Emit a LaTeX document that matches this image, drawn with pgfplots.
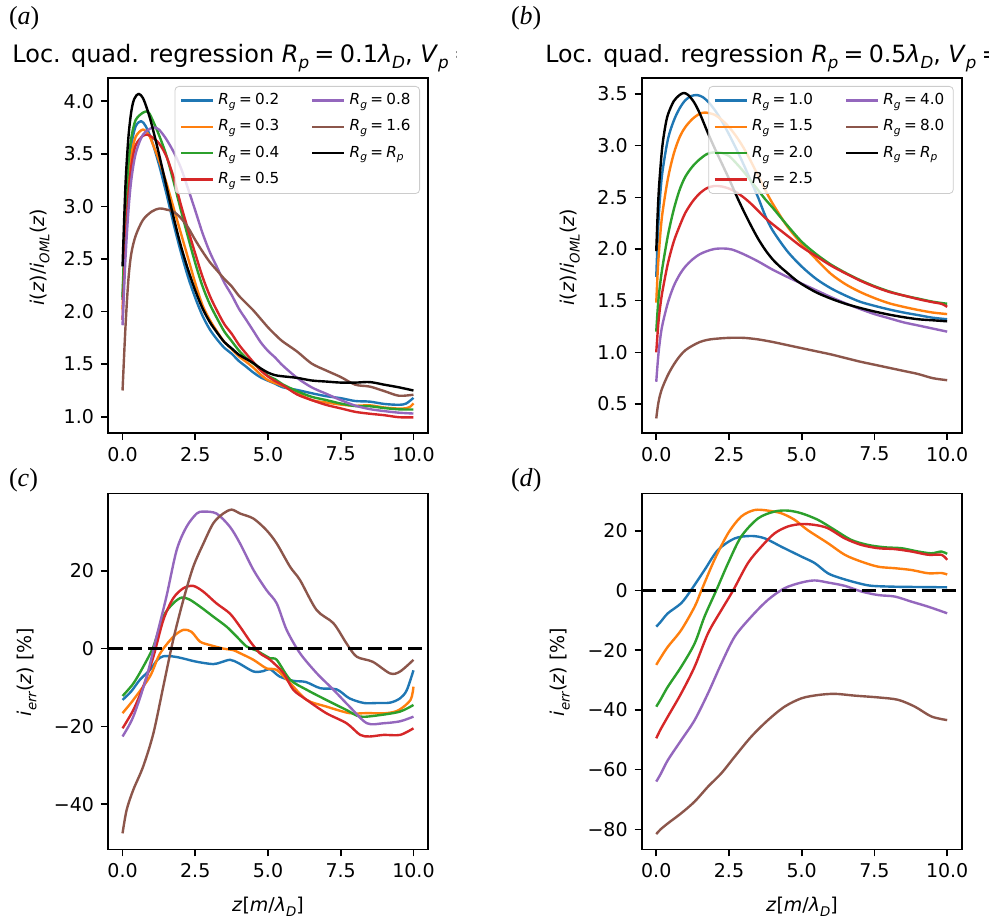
\documentclass[border=0pt]{standalone}
\usepackage{fontspec}
\setmainfont{DejaVu Sans}
\newfontfamily\seriffont{Liberation Serif}
\usepackage{pgfplots}
\pgfplotsset{compat=1.18}
\definecolor{tb}{HTML}{1F77B4}
\definecolor{to}{HTML}{FF7F0E}
\definecolor{tg}{HTML}{2CA02C}
\definecolor{tr}{HTML}{D62728}
\definecolor{tp}{HTML}{9467BD}
\definecolor{tn}{HTML}{8C564B}
\newcommand{\sub}[1]{\raisebox{-0.25em}{\scalebox{0.7}{\itshape #1}}}
\newcommand{\eq}{\hspace{0.22em}=\hspace{0.22em}}
\newcommand{\Rg}{\textit{R}\sub{g}}
\pgfplotsset{
 myax/.style={
  scale only axis, width=160pt, anchor=south west,
  xmin=-0.5, xmax=10.5,
  xtick={0,2.5,5,7.5,10}, xticklabels={0.0,2.5,5.0,7.5,10.0},
  tick align=outside, xtick pos=left, ytick pos=left,
  major tick length=3.5pt,
  tick style={black, line width=0.8pt},
  axis line style={line width=0.8pt},
  ticklabel style={font=\fontsize{9.5}{11}\selectfont},
  every axis plot/.append style={line width=1.2pt, smooth, tension=0.5, line join=round},
  legend cell align=left,
  legend columns=2,
  legend style={at={(1,1)}, anchor=north east, xshift=-4pt, yshift=-4pt,
    draw=black!20, fill=white, fill opacity=0.8, text opacity=1, draw opacity=1,
    rounded corners=2pt, font=\fontsize{7.6}{8.8}\selectfont,
    inner xsep=2.5pt, inner ysep=1.5pt, /tikz/row sep=2pt,
    /tikz/every even column/.append style={column sep=14pt}},
  legend image code/.code={\draw[#1,line width=1.2pt] (0pt,0pt) -- (16pt,0pt);},
 }
}
\begin{document}
\begin{tikzpicture}
\useasboundingbox (0pt,0pt) rectangle (497.5pt,461pt);
% ---------------- (a)
\begin{axis}[myax, at={(54pt,244.5pt)}, height=177.5pt,
  ymin=0.846, ymax=4.22, ytick={1,1.5,2,2.5,3,3.5,4},
  yticklabels={1.0,1.5,2.0,2.5,3.0,3.5,4.0}]
\addplot[tb, forget plot] coordinates {(0,2.11) (0.1,2.85) (0.2,3.30) (0.3,3.58) (0.45,3.76) (0.64,3.81) (0.8,3.76) (1.0,3.63) (1.25,3.40) (1.5,3.13) (1.75,2.84) (2.0,2.57) (2.25,2.33) (2.5,2.13) (2.75,1.96) (3.0,1.83) (3.25,1.735) (3.5,1.655) (3.75,1.60) (4.0,1.53) (4.25,1.476) (4.5,1.42) (4.75,1.374) (5.0,1.343) (5.25,1.314) (5.5,1.281) (6.0,1.255) (6.5,1.224) (7.0,1.196) (7.5,1.177) (8.0,1.15) (8.5,1.144) (9.0,1.122) (9.5,1.114) (9.75,1.126) (10,1.18)};
\addplot[to, forget plot] coordinates {(0,2.02) (0.1,2.75) (0.2,3.20) (0.3,3.48) (0.45,3.66) (0.7,3.73) (0.9,3.68) (1.0,3.62) (1.25,3.44) (1.5,3.23) (1.75,2.99) (2.0,2.75) (2.25,2.51) (2.5,2.27) (2.75,2.06) (3.0,1.92) (3.25,1.81) (3.5,1.71) (3.75,1.645) (4.0,1.574) (4.25,1.522) (4.5,1.466) (4.75,1.40) (5.0,1.348) (5.25,1.32) (5.5,1.295) (6.0,1.226) (6.5,1.159) (7.0,1.136) (7.5,1.116) (8.0,1.105) (8.5,1.109) (9.0,1.088) (9.5,1.078) (9.75,1.082) (9.9,1.098) (10,1.128)};
\addplot[tg, forget plot] coordinates {(0,2.14) (0.1,2.95) (0.2,3.40) (0.3,3.65) (0.45,3.82) (0.7,3.89) (0.87,3.90) (1.0,3.84) (1.25,3.68) (1.5,3.49) (1.75,3.24) (2.0,2.97) (2.25,2.71) (2.5,2.46) (2.75,2.24) (3.0,2.07) (3.25,1.935) (3.5,1.81) (3.75,1.72) (4.0,1.63) (4.25,1.56) (4.5,1.505) (4.75,1.448) (5.0,1.389) (5.25,1.356) (5.5,1.309) (6.0,1.243) (6.5,1.19) (7.0,1.159) (7.5,1.126) (8.0,1.102) (8.5,1.10) (9.0,1.083) (9.5,1.071) (10,1.069)};
\addplot[tr, forget plot] coordinates {(0,1.92) (0.1,2.65) (0.2,3.10) (0.3,3.38) (0.45,3.58) (0.7,3.67) (0.87,3.68) (1.0,3.66) (1.25,3.60) (1.5,3.48) (1.75,3.28) (2.0,3.02) (2.25,2.78) (2.5,2.55) (2.75,2.33) (3.0,2.15) (3.25,2.007) (3.5,1.88) (3.75,1.79) (4.0,1.685) (4.25,1.60) (4.5,1.518) (4.75,1.44) (5.0,1.383) (5.25,1.339) (5.5,1.302) (6.0,1.212) (6.5,1.159) (7.0,1.113) (7.5,1.08) (8.0,1.047) (8.5,1.029) (9.0,1.015) (9.5,0.996) (10,0.994)};
\addplot[tp, forget plot] coordinates {(0,1.87) (0.1,2.50) (0.2,2.95) (0.3,3.25) (0.45,3.50) (0.7,3.68) (1.04,3.75) (1.25,3.73) (1.5,3.64) (1.75,3.52) (2.0,3.37) (2.25,3.17) (2.5,2.96) (2.75,2.745) (3.0,2.565) (3.25,2.42) (3.5,2.274) (3.75,2.158) (4.0,2.027) (4.25,1.922) (4.5,1.815) (4.75,1.708) (5.0,1.626) (5.25,1.562) (5.5,1.489) (6.0,1.37) (6.5,1.28) (7.0,1.219) (7.5,1.159) (8.0,1.106) (8.5,1.073) (9.0,1.054) (9.5,1.039) (10,1.031)};
\addplot[tn, forget plot] coordinates {(0,1.25) (0.1,1.85) (0.2,2.30) (0.3,2.55) (0.45,2.72) (0.7,2.87) (1.0,2.95) (1.27,2.98) (1.5,2.97) (1.75,2.95) (2.0,2.89) (2.25,2.80) (2.5,2.68) (2.75,2.57) (3.0,2.47) (3.25,2.39) (3.5,2.31) (3.75,2.24) (4.0,2.15) (4.25,2.08) (4.5,2.01) (4.75,1.93) (5.0,1.85) (5.25,1.78) (5.5,1.717) (6.0,1.62) (6.5,1.506) (7.0,1.44) (7.5,1.378) (8.0,1.305) (8.5,1.287) (9.0,1.244) (9.5,1.20) (10,1.21)};
\addplot[black, forget plot] coordinates {(0,2.43) (0.1,3.20) (0.2,3.65) (0.3,3.90) (0.4,4.02) (0.55,4.07) (0.7,4.03) (0.85,3.92) (1.0,3.78) (1.25,3.50) (1.5,3.20) (1.75,2.90) (2.0,2.63) (2.25,2.40) (2.5,2.20) (2.75,2.03) (3.0,1.90) (3.25,1.80) (3.5,1.71) (3.75,1.65) (4.0,1.59) (4.25,1.55) (4.5,1.51) (4.75,1.46) (5.0,1.42) (5.25,1.395) (5.5,1.385) (6.0,1.37) (6.5,1.345) (7.0,1.335) (7.5,1.325) (8.0,1.325) (8.5,1.33) (9.0,1.305) (9.5,1.28) (10,1.25)};
\addlegendimage{tb}\addlegendentry{\Rg\eq0.2}
\addlegendimage{tp}\addlegendentry{\Rg\eq0.8}
\addlegendimage{to}\addlegendentry{\Rg\eq0.3}
\addlegendimage{tn}\addlegendentry{\Rg\eq1.6}
\addlegendimage{tg}\addlegendentry{\Rg\eq0.4}
\addlegendimage{black}\addlegendentry{\Rg\eq\textit{R}\sub{p}}
\addlegendimage{tr}\addlegendentry{\Rg\eq0.5}
\end{axis}
% ---------------- (b)
\begin{axis}[myax, at={(320.85pt,244.5pt)}, height=177.5pt,
  ymin=0.219, ymax=3.655, ytick={0.5,1,1.5,2,2.5,3,3.5},
  yticklabels={0.5,1.0,1.5,2.0,2.5,3.0,3.5}]
\addplot[tb, forget plot] coordinates {(0,1.73) (0.05,2.1) (0.1,2.38) (0.2,2.72) (0.4,3.06) (0.6,3.24) (0.8,3.36) (1.0,3.44) (1.2,3.48) (1.4,3.49) (1.6,3.47) (1.8,3.42) (2.0,3.35) (2.25,3.24) (2.5,3.11) (2.75,2.97) (3.0,2.82) (3.25,2.66) (3.5,2.50) (3.75,2.32) (4.0,2.18) (4.5,1.98) (5.0,1.83) (5.5,1.71) (6.0,1.62) (6.5,1.55) (7.0,1.49) (7.5,1.45) (8.0,1.415) (8.5,1.385) (9.0,1.36) (9.5,1.335) (10,1.32)};
\addplot[to, forget plot] coordinates {(0,1.48) (0.05,1.78) (0.1,2.00) (0.2,2.32) (0.4,2.68) (0.6,2.92) (0.8,3.08) (1.0,3.18) (1.25,3.26) (1.5,3.31) (1.7,3.32) (2.0,3.30) (2.25,3.25) (2.5,3.18) (2.75,3.09) (3.0,2.98) (3.25,2.85) (3.5,2.71) (3.75,2.57) (4.0,2.44) (4.5,2.22) (5.0,2.05) (5.5,1.90) (6.0,1.76) (6.5,1.66) (7.0,1.585) (7.5,1.525) (8.0,1.475) (8.5,1.44) (9.0,1.41) (9.5,1.385) (10,1.37)};
\addplot[tg, forget plot] coordinates {(0,1.20) (0.05,1.42) (0.1,1.58) (0.2,1.80) (0.4,2.13) (0.6,2.38) (0.8,2.57) (1.0,2.70) (1.25,2.80) (1.5,2.87) (1.75,2.92) (2.0,2.935) (2.25,2.93) (2.5,2.90) (2.75,2.83) (3.0,2.75) (3.25,2.66) (3.5,2.57) (3.75,2.48) (4.0,2.40) (4.5,2.23) (5.0,2.07) (5.5,1.95) (6.0,1.85) (6.5,1.77) (7.0,1.70) (7.5,1.64) (8.0,1.59) (8.5,1.55) (9.0,1.52) (9.5,1.49) (10,1.47)};
\addplot[tr, forget plot] coordinates {(0,1.0) (0.05,1.2) (0.1,1.36) (0.2,1.57) (0.4,1.86) (0.6,2.07) (0.8,2.22) (1.0,2.35) (1.25,2.46) (1.5,2.54) (1.75,2.59) (2.0,2.61) (2.25,2.605) (2.5,2.585) (2.75,2.55) (3.0,2.50) (3.25,2.44) (3.5,2.37) (3.75,2.30) (4.0,2.24) (4.5,2.13) (5.0,2.02) (5.5,1.93) (6.0,1.84) (6.5,1.765) (7.0,1.695) (7.5,1.635) (8.0,1.585) (8.5,1.55) (9.0,1.515) (9.5,1.485) (9.8,1.47) (10,1.44)};
\addplot[tp, forget plot] coordinates {(0,0.715) (0.05,0.9) (0.1,1.05) (0.2,1.25) (0.4,1.48) (0.6,1.64) (0.8,1.75) (1.0,1.83) (1.25,1.90) (1.5,1.95) (1.75,1.98) (2.0,2.0) (2.3,2.005) (2.6,1.995) (3.0,1.95) (3.5,1.88) (4.0,1.80) (4.5,1.73) (5.0,1.665) (5.5,1.60) (6.0,1.535) (6.5,1.475) (7.0,1.42) (7.5,1.37) (8.0,1.33) (8.5,1.29) (9.0,1.26) (9.5,1.23) (10,1.20)};
\addplot[tn, forget plot] coordinates {(0,0.36) (0.05,0.47) (0.1,0.55) (0.2,0.65) (0.4,0.78) (0.6,0.88) (0.8,0.96) (1.0,1.02) (1.25,1.065) (1.5,1.10) (1.75,1.12) (2.0,1.13) (2.5,1.14) (3.0,1.14) (3.5,1.125) (4.0,1.10) (4.5,1.07) (5.0,1.04) (5.5,1.01) (6.0,0.98) (6.5,0.945) (7.0,0.91) (7.5,0.88) (8.0,0.85) (8.5,0.82) (9.0,0.79) (9.5,0.75) (10,0.73)};
\addplot[black, forget plot] coordinates {(0,1.98) (0.05,2.35) (0.1,2.62) (0.2,2.97) (0.3,3.17) (0.4,3.30) (0.6,3.43) (0.8,3.49) (0.95,3.51) (1.1,3.49) (1.3,3.42) (1.5,3.31) (1.75,3.14) (2.0,2.98) (2.25,2.83) (2.5,2.68) (2.75,2.52) (3.0,2.37) (3.25,2.23) (3.5,2.10) (3.75,1.99) (4.0,1.90) (4.25,1.83) (4.5,1.77) (4.75,1.71) (5.0,1.66) (5.5,1.58) (6.0,1.52) (6.5,1.47) (7.0,1.43) (7.5,1.395) (8.0,1.365) (8.5,1.34) (9.0,1.32) (9.5,1.31) (10,1.30)};
\addlegendimage{tb}\addlegendentry{\Rg\eq1.0}
\addlegendimage{tp}\addlegendentry{\Rg\eq4.0}
\addlegendimage{to}\addlegendentry{\Rg\eq1.5}
\addlegendimage{tn}\addlegendentry{\Rg\eq8.0}
\addlegendimage{tg}\addlegendentry{\Rg\eq2.0}
\addlegendimage{black}\addlegendentry{\Rg\eq\textit{R}\sub{p}}
\addlegendimage{tr}\addlegendentry{\Rg\eq2.5}
\end{axis}
% ---------------- (c)
\begin{axis}[myax, at={(54pt,36.35pt)}, height=178pt,
  ymin=-51.6, ymax=39.9, ytick={-40,-20,0,20},
  yticklabels={−40,−20,0,20}]
\addplot[tb] coordinates {(0,-13.2) (0.3,-11.0) (0.6,-8.0) (0.94,-5.5) (1.2,-2.9) (1.4,-2.0) (1.7,-2.0) (2.0,-2.4) (2.55,-3.4) (3.12,-4.0) (3.4,-3.5) (3.7,-2.9) (4.0,-3.8) (4.5,-5.9) (4.84,-5.8) (5.07,-5.3) (5.4,-7.2) (5.87,-8.3) (6.3,-8.6) (6.8,-10.2) (7.36,-10.5) (7.8,-12.8) (8.3,-14) (8.74,-14) (9.2,-13.9) (9.54,-12.8) (9.77,-10.7) (10,-5.6)};
\addplot[to] coordinates {(0,-16.6) (0.37,-13.2) (0.94,-7.2) (1.28,-1.4) (1.74,3.0) (2.09,4.8) (2.37,4.3) (2.66,1.8) (3.0,0.9) (3.46,0) (3.8,-0.4) (4.04,-1.2) (4.5,-2.9) (4.95,-5.1) (5.3,-5.5) (5.76,-8.9) (6.33,-13.2) (7.0,-14.9) (7.8,-16.6) (8.4,-16.6) (9.08,-16.6) (9.5,-15.8) (9.9,-13.2) (10,-9.8)};
\addplot[tg] coordinates {(0,-12.2) (0.37,-9) (0.71,-4.7) (1.06,0.5) (1.4,8.2) (1.74,11.6) (2.03,13.1) (2.3,12.6) (2.66,10.8) (3.12,8.2) (3.58,5.6) (3.92,3.1) (4.27,0.5) (4.6,-0.5) (5.07,-2.5) (5.3,-2.9) (5.76,-8) (6.33,-10.6) (7.0,-13.2) (7.7,-15.8) (8.17,-17.5) (8.85,-17.1) (9.54,-16.2) (10,-14.5)};
\addplot[tr] coordinates {(0,-20.5) (0.37,-15.8) (0.71,-9.8) (1.06,-2.1) (1.4,7.3) (1.74,12.9) (2.09,15.5) (2.43,16.1) (2.78,14.6) (3.23,11.6) (3.69,9) (4.04,5.6) (4.39,1.8) (4.72,-1.2) (5.07,-2.9) (5.53,-6.3) (5.87,-10.6) (6.33,-13.2) (7.0,-16.6) (7.7,-19.2) (8.17,-22.2) (8.5,-22.6) (8.97,-22.2) (9.54,-22.2) (10,-20.5)};
\addplot[tp] coordinates {(0,-22.6) (0.37,-17.5) (0.83,-7.2) (1.17,3.1) (1.51,13.4) (1.86,25.3) (2.2,31.3) (2.55,34.7) (2.78,35.2) (3.23,34.7) (3.69,31.3) (4.04,27) (4.5,20.2) (4.95,15) (5.3,11.6) (5.64,4.8) (6.1,-1.2) (6.67,-6.3) (7.25,-10.6) (7.8,-14.9) (8.4,-19.2) (8.97,-19.2) (9.54,-18.7) (10,-17.5)};
\addplot[tn] coordinates {(0,-47.5) (0.14,-41.5) (0.37,-36.3) (0.71,-30.3) (1.06,-21.8) (1.4,-9.8) (1.74,2.2) (2.09,12.5) (2.43,21) (2.78,27) (3.12,32.2) (3.46,34.7) (3.75,35.7) (4.04,34.7) (4.5,33.4) (4.95,30.4) (5.3,27) (5.76,21) (6.1,17.6) (6.67,9.9) (7.25,6.5) (7.7,1.3) (8.05,-2.1) (8.6,-3.4) (9.2,-6.4) (9.54,-5.9) (10,-2.9)};
\addplot[black, dash pattern=on 7pt off 3pt, line width=1.2pt] coordinates {(-0.5,0) (10.5,0)};
\end{axis}
% ---------------- (d)
\begin{axis}[myax, at={(320.85pt,36.35pt)}, height=178pt,
  ymin=-86.7, ymax=32.6, ytick={-80,-60,-40,-20,0,20},
  yticklabels={−80,−60,−40,−20,0,20}]
\addplot[tb] coordinates {(0,-12.1) (0.15,-10.5) (0.4,-7.6) (0.86,-4.2) (1.2,0.2) (1.66,6.9) (2.12,13.6) (2.7,17.5) (3.27,18.3) (3.73,17.5) (4.3,14.7) (4.99,11.4) (5.45,9.2) (5.9,5.8) (6.36,4.1) (6.94,2.5) (7.4,1.6) (8.2,1.3) (9.0,1.2) (10,1.1)};
\addplot[to] coordinates {(0,-24.9) (0.15,-22.5) (0.4,-18.8) (0.86,-13.2) (1.32,-5.4) (1.55,0) (2.0,10.3) (2.47,19.2) (2.92,24.8) (3.38,27.0) (3.84,26.8) (4.3,25.9) (4.76,23.7) (5.2,20.3) (5.9,15.9) (6.48,12.0) (7.05,9.7) (7.63,8.0) (8.2,7.5) (8.77,6.9) (9.35,5.8) (9.8,5.9) (10,5.4)};
\addplot[tg] coordinates {(0,-38.9) (0.15,-36.5) (0.4,-32.2) (0.86,-25.5) (1.32,-17.7) (1.66,-8.7) (2.06,0) (2.47,9.2) (2.92,18.1) (3.5,24.2) (4.07,26.5) (4.53,26.8) (4.99,25.9) (5.56,23.7) (6.14,20.3) (6.7,17.0) (7.28,15.3) (7.86,14.5) (8.43,14.2) (9.0,13.1) (9.46,12.5) (9.8,13.1) (10,12.3)};
\addplot[tr] coordinates {(0,-49.5) (0.15,-46.5) (0.4,-42.2) (0.86,-34.4) (1.32,-25.5) (1.78,-14.3) (2.24,-6.5) (2.64,0) (3.15,9.2) (3.61,14.7) (4.07,19.2) (4.53,21.5) (4.99,22.3) (5.45,22.0) (5.9,20.9) (6.48,17.5) (7.05,15.3) (7.63,14.2) (8.2,13.9) (8.77,13.1) (9.35,12.0) (9.8,12.0) (10,10.3)};
\addplot[tp] coordinates {(0,-64.0) (0.15,-61.5) (0.4,-56.8) (0.86,-50.1) (1.32,-43.4) (1.78,-34.4) (2.24,-24.4) (2.7,-15.4) (3.27,-8.7) (3.84,-3.1) (4.41,0.8) (4.99,2.7) (5.45,3.4) (5.9,2.7) (6.48,1.6) (7.05,-0.3) (7.63,-1.5) (8.2,-2.0) (8.77,-3.7) (9.35,-5.4) (10,-7.6)};
\addplot[tn] coordinates {(0,-81.6) (0.15,-80.0) (0.4,-78.0) (0.86,-74.6) (1.32,-70.7) (1.78,-65.7) (2.24,-61.2) (2.7,-55.6) (3.27,-48.9) (3.84,-43.4) (4.41,-38.9) (4.99,-36.1) (5.56,-35.0) (6.14,-34.6) (6.82,-35.2) (7.63,-35.8) (8.31,-36.6) (8.89,-38.9) (9.46,-42.2) (10,-43.4)};
\addplot[black, dash pattern=on 7pt off 3pt, line width=1.2pt] coordinates {(-0.5,0) (10.5,0)};
\end{axis}
% ---------------- texts
\node[anchor=west, font=\seriffont\fontsize{13}{15}\selectfont] at (1pt,452pt) {(\textit{a})};
\node[anchor=west, font=\seriffont\fontsize{13}{15}\selectfont] at (252pt,452pt) {(\textit{b})};
\node[anchor=west, font=\seriffont\fontsize{13}{15}\selectfont] at (1pt,221pt) {(\textit{c})};
\node[anchor=west, font=\seriffont\fontsize{13}{15}\selectfont] at (252pt,221pt) {(\textit{d})};
\begin{scope}
\clip (0pt,400pt) rectangle (228pt,461pt);
\node[anchor=base west, inner sep=0pt, font=\fontsize{12}{14}\selectfont] at (6pt,429.5pt) {Loc. quad. regression \textit{R}\sub{p}\eq0.1\textit{λ}\sub{D}, \textit{V}\sub{p}\eq1.0};
\end{scope}
\begin{scope}
\clip (250pt,400pt) rectangle (494pt,461pt);
\node[anchor=base west, inner sep=0pt, font=\fontsize{11.85}{14}\selectfont] at (272.5pt,429.5pt) {Loc. quad. regression \textit{R}\sub{p}\eq0.5\textit{λ}\sub{D}, \textit{V}\sub{p}\eq1.0};
\end{scope}
\node[rotate=90, font=\fontsize{9.5}{11}\selectfont] at (20pt,332.5pt) {\textit{i}(\textit{z})/\textit{i}\sub{OML}(\textit{z})};
\node[rotate=90, font=\fontsize{9.5}{11}\selectfont] at (285pt,332.5pt) {\textit{i}(\textit{z})/\textit{i}\sub{OML}(\textit{z})};
\node[rotate=90, font=\fontsize{9.5}{11}\selectfont] at (13.5pt,125pt) {\textit{i}\sub{err}(\textit{z}) [\%]};
\node[rotate=90, font=\fontsize{9.5}{11}\selectfont] at (280pt,125pt) {\textit{i}\sub{err}(\textit{z}) [\%]};
\node[font=\fontsize{9.5}{11}\selectfont] at (134pt,7.5pt) {\textit{z}[\textit{m}/\textit{λ}\sub{D}]};
\node[font=\fontsize{9.5}{11}\selectfont] at (401pt,7.5pt) {\textit{z}[\textit{m}/\textit{λ}\sub{D}]};
\end{tikzpicture}
\end{document}
